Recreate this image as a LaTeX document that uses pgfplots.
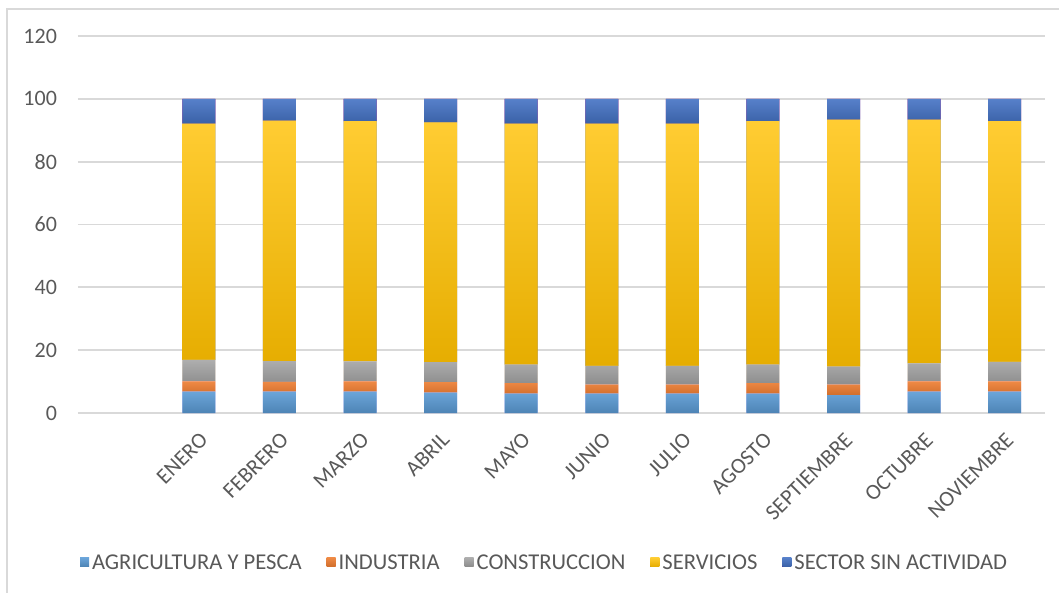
\documentclass[border=0pt]{standalone}
\usepackage{pgfplots}
\pgfplotsset{compat=1.18}
\usepackage{pgfplotstable}
\usepackage{fontspec}
\setmainfont{Carlito}
\definecolor{txt}{HTML}{595959}
\definecolor{gridc}{HTML}{D9D9D9}
\definecolor{agri}{HTML}{5B9BD5}
\definecolor{ind}{HTML}{ED7D31}
\definecolor{cons}{HTML}{A5A5A5}
\definecolor{serv}{HTML}{FFC000}
\definecolor{sin}{HTML}{4472C4}
\pgfplotstableread{
x agri ind cons serv sin
1  6.8 3.3 6.8 75.2 7.9
2  6.8 3.1 6.6 76.6 6.9
3  6.8 3.3 6.3 76.5 7.1
4  6.5 3.3 6.4 76.3 7.5
5  6.2 3.3 5.9 76.7 7.9
6  6.2 2.8 6.0 77.1 7.9
7  6.2 2.8 6.0 77.1 7.9
8  6.2 3.3 5.9 77.5 7.1
9  5.7 3.3 5.8 78.6 6.6
10 6.8 3.3 5.7 77.6 6.6
11 6.8 3.3 6.2 76.6 7.1
}\datatable
\begin{document}
\begin{tikzpicture}[font=\fontsize{11}{13}\selectfont]
\useasboundingbox (-39pt,-90pt) rectangle (490.5pt,206.5pt);
\draw[gray!30, line width=1pt] (-35.5pt,-90pt) -- (-35.5pt,202pt) -- (490.5pt,202pt);
\begin{axis}[
  scale only axis,
  width=483.5pt, height=188.5pt,
  ybar stacked, bar width=16.5pt,
  xmin=0, xmax=12,
  ymin=0, ymax=120,
  ytick={0,20,...,120},
  xtick={1.5,2.5,...,11.5},
  xticklabels={ENERO,FEBRERO,MARZO,ABRIL,MAYO,JUNIO,JULIO,AGOSTO,SEPTIEMBRE,OCTUBRE,NOVIEMBRE},
  x tick label style={rotate=45, anchor=north east, yshift=-3pt, xshift=-3pt, text=txt},
  y tick label style={text=txt, xshift=-7pt},
  /pgf/number format/assume math mode=true,
  axis line style={draw=none},
  major tick length=0pt,
  xmajorgrids=false,
  ymajorgrids=true, grid style={draw=gridc, line width=0.9pt},
  legend style={at={(0.483,-0.4005)}, anchor=center, draw=none, legend columns=5,
    text=txt, font=\fontsize{11.3}{13}\selectfont, nodes={inner xsep=1.5pt},
    /tikz/every even column/.append style={column sep=11pt}},
  legend image code/.code={\fill[#1] (0pt,-1.3pt) rectangle (4.5pt,3.2pt);},
  legend cell align=left,
]
\addplot+[draw=none, top color=agri!90!white, bottom color=agri!85!black] table[x expr=\thisrow{x}+0.5, y=agri]{\datatable};
\addplot+[draw=none, top color=ind!90!white, bottom color=ind!88!black] table[x expr=\thisrow{x}+0.5, y=ind]{\datatable};
\addplot+[draw=none, top color=cons!90!white, bottom color=cons!85!black] table[x expr=\thisrow{x}+0.5, y=cons]{\datatable};
\addplot+[draw=none, top color=serv!80!white, bottom color=serv!90!black] table[x expr=\thisrow{x}+0.5, y=serv]{\datatable};
\addplot+[draw=none, top color=sin!90!white, bottom color=sin!85!black] table[x expr=\thisrow{x}+0.5, y=sin]{\datatable};
\legend{AGRICULTURA Y PESCA, INDUSTRIA, CONSTRUCCION, SERVICIOS, SECTOR SIN ACTIVIDAD}
\end{axis}
\end{tikzpicture}
\end{document}
